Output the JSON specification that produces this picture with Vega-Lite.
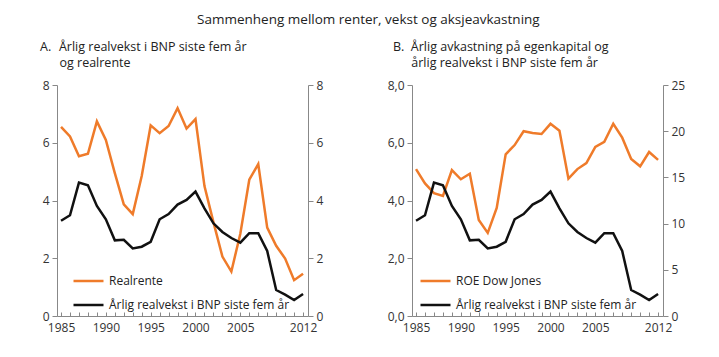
{
  "$schema": "https://vega.github.io/schema/vega-lite/v6.json",
  "padding": {"left": 40, "top": 13, "right": 5, "bottom": 5},
  "background": "white",
  "title": {"text": "Sammenheng mellom renter, vekst og aksjeavkastning", "fontSize": 13.5, "font": "Open Sans", "fontWeight": "normal", "anchor": "middle", "offset": 14, "color": "#222", "dx": 6},
  "datasets": {
    "d": [
      {"year": 1985, "series": "Realrente", "value": 6.55},
      {"year": 1986, "series": "Realrente", "value": 6.22},
      {"year": 1987, "series": "Realrente", "value": 5.53},
      {"year": 1988, "series": "Realrente", "value": 5.62},
      {"year": 1989, "series": "Realrente", "value": 6.74},
      {"year": 1990, "series": "Realrente", "value": 6.1},
      {"year": 1991, "series": "Realrente", "value": 4.95},
      {"year": 1992, "series": "Realrente", "value": 3.87},
      {"year": 1993, "series": "Realrente", "value": 3.53},
      {"year": 1994, "series": "Realrente", "value": 4.85},
      {"year": 1995, "series": "Realrente", "value": 6.6},
      {"year": 1996, "series": "Realrente", "value": 6.33},
      {"year": 1997, "series": "Realrente", "value": 6.58},
      {"year": 1998, "series": "Realrente", "value": 7.2},
      {"year": 1999, "series": "Realrente", "value": 6.49},
      {"year": 2000, "series": "Realrente", "value": 6.82},
      {"year": 2001, "series": "Realrente", "value": 4.5},
      {"year": 2002, "series": "Realrente", "value": 3.25},
      {"year": 2003, "series": "Realrente", "value": 2.06},
      {"year": 2004, "series": "Realrente", "value": 1.54},
      {"year": 2005, "series": "Realrente", "value": 2.85},
      {"year": 2006, "series": "Realrente", "value": 4.72},
      {"year": 2007, "series": "Realrente", "value": 5.26},
      {"year": 2008, "series": "Realrente", "value": 3.06},
      {"year": 2009, "series": "Realrente", "value": 2.43},
      {"year": 2010, "series": "Realrente", "value": 1.99},
      {"year": 2011, "series": "Realrente", "value": 1.24},
      {"year": 2012, "series": "Realrente", "value": 1.46},
      {"year": 1985, "series": "Årlig realvekst i BNP siste fem år", "value": 3.3},
      {"year": 1986, "series": "Årlig realvekst i BNP siste fem år", "value": 3.49},
      {"year": 1987, "series": "Årlig realvekst i BNP siste fem år", "value": 4.62},
      {"year": 1988, "series": "Årlig realvekst i BNP siste fem år", "value": 4.53},
      {"year": 1989, "series": "Årlig realvekst i BNP siste fem år", "value": 3.81},
      {"year": 1990, "series": "Årlig realvekst i BNP siste fem år", "value": 3.35},
      {"year": 1991, "series": "Årlig realvekst i BNP siste fem år", "value": 2.62},
      {"year": 1992, "series": "Årlig realvekst i BNP siste fem år", "value": 2.64},
      {"year": 1993, "series": "Årlig realvekst i BNP siste fem år", "value": 2.34},
      {"year": 1994, "series": "Årlig realvekst i BNP siste fem år", "value": 2.4},
      {"year": 1995, "series": "Årlig realvekst i BNP siste fem år", "value": 2.57},
      {"year": 1996, "series": "Årlig realvekst i BNP siste fem år", "value": 3.35},
      {"year": 1997, "series": "Årlig realvekst i BNP siste fem år", "value": 3.53},
      {"year": 1998, "series": "Årlig realvekst i BNP siste fem år", "value": 3.86},
      {"year": 1999, "series": "Årlig realvekst i BNP siste fem år", "value": 4.02},
      {"year": 2000, "series": "Årlig realvekst i BNP siste fem år", "value": 4.31},
      {"year": 2001, "series": "Årlig realvekst i BNP siste fem år", "value": 3.73},
      {"year": 2002, "series": "Årlig realvekst i BNP siste fem år", "value": 3.21},
      {"year": 2003, "series": "Årlig realvekst i BNP siste fem år", "value": 2.91},
      {"year": 2004, "series": "Årlig realvekst i BNP siste fem år", "value": 2.7},
      {"year": 2005, "series": "Årlig realvekst i BNP siste fem år", "value": 2.54},
      {"year": 2006, "series": "Årlig realvekst i BNP siste fem år", "value": 2.87},
      {"year": 2007, "series": "Årlig realvekst i BNP siste fem år", "value": 2.87},
      {"year": 2008, "series": "Årlig realvekst i BNP siste fem år", "value": 2.25},
      {"year": 2009, "series": "Årlig realvekst i BNP siste fem år", "value": 0.9},
      {"year": 2010, "series": "Årlig realvekst i BNP siste fem år", "value": 0.74},
      {"year": 2011, "series": "Årlig realvekst i BNP siste fem år", "value": 0.55},
      {"year": 2012, "series": "Årlig realvekst i BNP siste fem år", "value": 0.76},
      {"year": 1985, "series": "ROE Dow Jones", "value": 15.9},
      {"year": 1986, "series": "ROE Dow Jones", "value": 14.35},
      {"year": 1987, "series": "ROE Dow Jones", "value": 13.3},
      {"year": 1988, "series": "ROE Dow Jones", "value": 13.0},
      {"year": 1989, "series": "ROE Dow Jones", "value": 15.8},
      {"year": 1990, "series": "ROE Dow Jones", "value": 14.8},
      {"year": 1991, "series": "ROE Dow Jones", "value": 15.4},
      {"year": 1992, "series": "ROE Dow Jones", "value": 10.4},
      {"year": 1993, "series": "ROE Dow Jones", "value": 9.0},
      {"year": 1994, "series": "ROE Dow Jones", "value": 11.7},
      {"year": 1995, "series": "ROE Dow Jones", "value": 17.5},
      {"year": 1996, "series": "ROE Dow Jones", "value": 18.5},
      {"year": 1997, "series": "ROE Dow Jones", "value": 20.0},
      {"year": 1998, "series": "ROE Dow Jones", "value": 19.8},
      {"year": 1999, "series": "ROE Dow Jones", "value": 19.7},
      {"year": 2000, "series": "ROE Dow Jones", "value": 20.8},
      {"year": 2001, "series": "ROE Dow Jones", "value": 20.05},
      {"year": 2002, "series": "ROE Dow Jones", "value": 14.86},
      {"year": 2003, "series": "ROE Dow Jones", "value": 15.9},
      {"year": 2004, "series": "ROE Dow Jones", "value": 16.55},
      {"year": 2005, "series": "ROE Dow Jones", "value": 18.3},
      {"year": 2006, "series": "ROE Dow Jones", "value": 18.84},
      {"year": 2007, "series": "ROE Dow Jones", "value": 20.8},
      {"year": 2008, "series": "ROE Dow Jones", "value": 19.3},
      {"year": 2009, "series": "ROE Dow Jones", "value": 17.0},
      {"year": 2010, "series": "ROE Dow Jones", "value": 16.2},
      {"year": 2011, "series": "ROE Dow Jones", "value": 17.75},
      {"year": 2012, "series": "ROE Dow Jones", "value": 16.9}
    ]
  },
  "spacing": 64,
  "resolve": {"scale": {"color": "independent"}, "legend": {"color": "independent"}},
  "hconcat": [
    {
      "width": 251,
      "height": 231,
      "title": {"text": ["A.\u00a0\u00a0\u200aÅrlig realvekst i BNP siste fem år", "\u200b\u00a0\u00a0\u00a0\u00a0\u00a0\u00a0og realrente"], "anchor": "start", "frame": "group", "dx": -17, "fontSize": 12.5, "fontWeight": "normal", "offset": 10, "lineHeight": 16, "color": "#222"},
      "data": {"name": "d"},
      "encoding": {
        "x": {"field": "year", "type": "quantitative", "scale": {"domain": [1984.55, 2012.55], "nice": false, "zero": false},
          "axis": {"title": null, "values": [1985,1986,1987,1988,1989,1990,1991,1992,1993,1994,1995,1996,1997,1998,1999,2000,2001,2002,2003,2004,2005,2006,2007,2008,2009,2010,2011,2012],
            "labelExpr": "(datum.value % 5 == 0 && datum.value < 2010) || datum.value == 2012 ? '' + datum.value : ''",
            "tickSize": -4, "labelPadding": 10, "labelFlush": false, "labelOverlap": false}},
        "color": {"field": "series", "type": "nominal",
          "scale": {"domain": ["Realrente", "Årlig realvekst i BNP siste fem år"], "range": ["#ef7b2a", "#111111"]},
          "legend": {"orient": "none", "legendX": 15, "legendY": 189, "title": null, "symbolType": "stroke", "symbolSize": 900, "symbolStrokeWidth": 2.5, "labelFontSize": 12, "clipHeight": 14, "rowPadding": 10, "labelColor": "#222", "labelLimit": 400}}
      },
      "layer": [
        {"transform": [{"filter": "datum.series == 'Realrente'"}],
          "mark": {"type": "line", "strokeWidth": 2.5},
          "encoding": {"y": {"field": "value", "type": "quantitative", "scale": {"domain": [0, 8], "nice": false},
            "axis": {"orient": "left", "title": null, "values": [0, 2, 4, 6, 8]}}}},
        {"transform": [{"filter": "datum.series == 'Årlig realvekst i BNP siste fem år'"}],
          "mark": {"type": "line", "strokeWidth": 2.5},
          "encoding": {"y": {"field": "value", "type": "quantitative", "scale": {"domain": [0, 8], "nice": false},
            "axis": {"orient": "right", "title": null, "values": [0, 2, 4, 6, 8]}}}}
      ],
      "resolve": {"scale": {"y": "independent"}}
    },
    {
      "width": 251,
      "height": 231,
      "title": {"text": ["B.\u00a0\u00a0Årlig avkastning på egenkapital og", "\u200b\u00a0\u00a0\u00a0\u00a0\u00a0\u2009årlig realvekst i BNP siste fem år"], "anchor": "start", "frame": "group", "dx": -19, "fontSize": 12.5, "fontWeight": "normal", "offset": 10, "lineHeight": 16, "color": "#222"},
      "data": {"name": "d"},
      "encoding": {
        "x": {"field": "year", "type": "quantitative", "scale": {"domain": [1984.55, 2012.55], "nice": false, "zero": false},
          "axis": {"title": null, "values": [1985,1986,1987,1988,1989,1990,1991,1992,1993,1994,1995,1996,1997,1998,1999,2000,2001,2002,2003,2004,2005,2006,2007,2008,2009,2010,2011,2012],
            "labelExpr": "(datum.value % 5 == 0 && datum.value < 2010) || datum.value == 2012 ? '' + datum.value : ''",
            "tickSize": -4, "labelPadding": 10, "labelFlush": false, "labelOverlap": false}},
        "color": {"field": "series", "type": "nominal",
          "scale": {"domain": ["ROE Dow Jones", "Årlig realvekst i BNP siste fem år"], "range": ["#ef7b2a", "#111111"]},
          "legend": {"orient": "none", "legendX": 7, "legendY": 189, "title": null, "symbolType": "stroke", "symbolSize": 900, "symbolStrokeWidth": 2.5, "labelFontSize": 12, "clipHeight": 14, "rowPadding": 10, "labelColor": "#222", "labelLimit": 400}}
      },
      "layer": [
        {"transform": [{"filter": "datum.series == 'ROE Dow Jones'"}],
          "mark": {"type": "line", "strokeWidth": 2.5},
          "encoding": {"y": {"field": "value", "type": "quantitative", "scale": {"domain": [0, 25], "nice": false},
            "axis": {"orient": "right", "title": null, "values": [0, 5, 10, 15, 20, 25]}}}},
        {"transform": [{"filter": "datum.series == 'Årlig realvekst i BNP siste fem år'"}],
          "mark": {"type": "line", "strokeWidth": 2.5},
          "encoding": {"y": {"field": "value", "type": "quantitative", "scale": {"domain": [0, 8], "nice": false},
            "axis": {"orient": "left", "title": null, "values": [0, 2, 4, 6, 8], "labelExpr": "replace(format(datum.value, '.1f'), '.', ',')"}}}}
      ],
      "resolve": {"scale": {"y": "independent"}}
    }
  ],
  "config": {
    "font": "Open Sans",
    "view": {"stroke": null},
    "axis": {"grid": false, "domainColor": "#888888", "tickColor": "#888888", "labelColor": "#333333", "labelFontSize": 12, "labelFont": "Open Sans", "tickSize": 5, "labelPadding": 3, "domainWidth": 1, "tickWidth": 1},
    "legend": {"labelFont": "Open Sans"},
    "title": {"font": "Open Sans"}
  }
}
